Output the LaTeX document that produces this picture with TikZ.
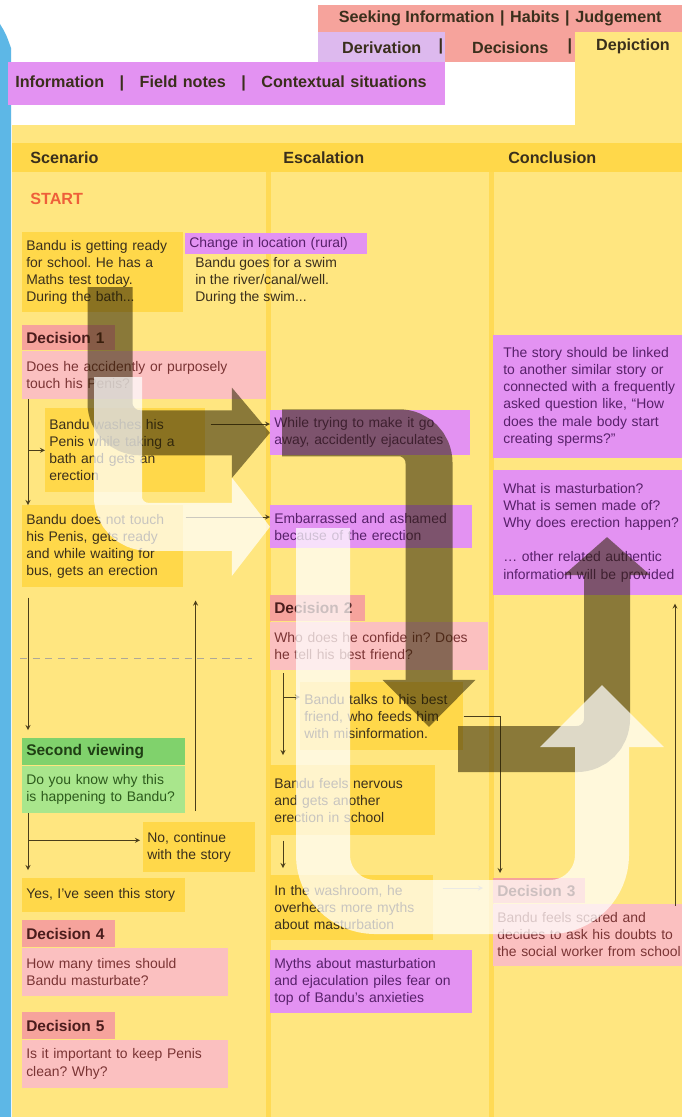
\documentclass[tikz,border=0pt]{standalone}
\usepackage{fontspec}
\setmainfont{Liberation Sans}
\usetikzlibrary{calc, positioning, arrows.meta}
\frenchspacing
\def\px{0.025cm}
\definecolor{boardyellow}{HTML}{FFE680}
\definecolor{lanecolor}{HTML}{FFDA55}
\definecolor{notecolor}{HTML}{FFD84A}
\definecolor{twistcolor}{HTML}{E392F2}
\definecolor{lilac}{HTML}{DDB9EE}
\definecolor{salmon}{HTML}{F6A39C}
\definecolor{blush}{HTML}{FBC0C0}
\definecolor{leafdark}{HTML}{80D26C}
\definecolor{leaflight}{HTML}{A9E68C}
\definecolor{startred}{HTML}{EE5F3A}
\definecolor{sidebar}{HTML}{5DB7E6}
\definecolor{inkbrown}{HTML}{3A2F1C}
\definecolor{inkpurple}{HTML}{57206A}
\definecolor{inkred}{HTML}{7A3434}
\definecolor{inktag}{HTML}{4A1C1C}
\definecolor{inkgreen}{HTML}{2C5A1C}
\definecolor{flowdark}{HTML}{2A2000}
\definecolor{linecolor}{HTML}{4A3E1A}
\def\notefont{\fontsize{9.9}{12.2}\selectfont}
\def\tagfont{\fontsize{11}{13}\selectfont\bfseries}
\def\headfont{\fontsize{11.5}{13.5}\selectfont\bfseries}
\def\sep{\hspace{11pt}|\hspace{11pt}}
\def\topsep{\hspace{4pt}|\hspace{4pt}}
\tikzset{
% Sticky note
note/.style n args={3}{
	anchor=north west, fill=#1, align=left,
	minimum width=#2*\px, text width=(#2-8)*\px, minimum height=#3*\px,
	inner xsep=0.1cm, inner ysep=0pt, font=\notefont,
	},
% Scene
scene/.style 2 args={note={notecolor}{#1}{#2}, text=inkbrown},
% Twist
twist/.style 2 args={note={twistcolor}{#1}{#2}, text=inkpurple},
% Choice
choice/.style 2 args={note={blush}{#1}{#2}, text=inkred},
choicetag/.style 2 args={note={salmon}{#1}{#2}, text=inktag, font=\tagfont},
% Second viewing
viewtag/.style 2 args={note={leafdark}{#1}{#2}, text=inkgreen!70!black, font=\tagfont},
viewq/.style 2 args={note={leaflight}{#1}{#2}, text=inkgreen},
% Legend
legend/.style={
	inner sep=0pt, font=\headfont, text=inkbrown,
},
% Column head
colhead/.style={
	anchor=west, inner sep=0pt, font=\headfont, text=inkbrown,
},
% Connection
connection/.style={
	line width=0.6pt, draw=linecolor,
},
% Flow
flow/.style={
	line width=#1*\px, rounded corners=0.75cm,
},
}

\begin{document}
\begin{tikzpicture}[x=\px, y=-\px]
	\useasboundingbox (0,0) rectangle (682,1117);

	% Board
	\fill[white] (0,0) rectangle (682,1117);
	\fill[boardyellow] (12,125) rectangle (682,1117);
	\fill[boardyellow] (575,32) rectangle (682,125);
	\fill[notecolor] (12,143) rectangle (682,172);
	\fill[lanecolor] (266,172) rectangle (271,1117);
	\fill[lanecolor] (489,172) rectangle (494,1117);
	\fill[sidebar] (0,24) .. controls (6,34) .. (11,48) -- (11,1117) -- (0,1117) -- cycle;

	% Legend
	\node[legend, anchor=north west, fill=salmon, minimum width=364*\px, minimum height=27*\px]
		 (legend_top) at (318,5) {Seeking Information\topsep Habits\topsep Judgement};
	\node[legend, anchor=north west, fill=lilac, minimum width=127*\px, minimum height=30*\px]
		 (legend_derivation) at (318,32) {Derivation};
	\node[legend, anchor=north west, fill=salmon, minimum width=130*\px, minimum height=30*\px]
		 (legend_decisions) at (445,32) {Decisions};
	\node[legend] (legend_depiction) at (633,46) {Depiction};
	\node[legend] (legend_bar1) at (441,46) {|};
	\node[legend] (legend_bar2) at (570,46) {|};
	\node[legend, anchor=north west, fill=twistcolor, minimum width=437*\px, minimum height=43*\px,
		 text width=(437-14)*\px, align=left, inner xsep=7*\px]
		 (legend_info) at (8,62) {Information\sep Field notes\sep Contextual situations};

	% Column heads
	\node[colhead] (head_scenario) at (30,158) {Scenario};
	\node[colhead] (head_escalation) at (283,158) {Escalation};
	\node[colhead] (head_conclusion) at (508,158) {Conclusion};

	% Scenario
	\node[colhead, text=startred] (start) at (30,199) {START};
	\node[scene={161}{80}] (get_ready) at (22,232)
		 {Bandu is getting ready\\for school. He has a\\Maths test today.\\During the bath...};
	\node[twist={182}{21}] (location_tag) at (185,233) {Change in location (rural)};
	\node[anchor=north west, inner sep=0pt, align=left, font=\notefont, text=inkbrown]
		 (swim) at (195,257) {Bandu goes for a swim\\in the river/canal/well.\\During the swim...};
	\node[choicetag={93}{25}] (dec1_tag) at (22,325) {Decision 1};
	\node[choice={244}{48}, below=0pt of dec1_tag.south west, anchor=north west]
		 (dec1_q) {Does he accidently or purposely\\touch his Penis?};
	\node[scene={160}{84}] (washes) at (45,408)
		 {Bandu washes his\\Penis while taking a\\bath and gets an\\erection};
	\node[scene={161}{82}] (no_touch) at (22,505)
		 {Bandu does not touch\\his Penis, gets ready\\and while waiting for\\bus, gets an erection};
	\node[viewtag={163}{27}] (view_tag) at (22,738) {Second viewing};
	\node[viewq={163}{47}, below=0pt of view_tag.south west, anchor=north west]
		 (view_q) {Do you know why this\\is happening to Bandu?};
	\node[scene={112}{50}] (go_on) at (143,822) {No, continue\\with the story};
	\node[scene={163}{34}] (seen) at (22,878) {Yes, I've seen this story};
	\node[choicetag={93}{27}] (dec4_tag) at (22,920) {Decision 4};
	\node[choice={206}{48}, below=0pt of dec4_tag.south west, anchor=north west]
		 (dec4_q) {How many times should\\Bandu masturbate?};
	\node[choicetag={93}{27}] (dec5_tag) at (22,1012) {Decision 5};
	\node[choice={206}{48}, below=0pt of dec5_tag.south west, anchor=north west]
		 (dec5_q) {Is it important to keep Penis\\clean? Why?};

	% Escalation
	\node[twist={200}{45}] (ejac) at (270,410) {While trying to make it go\\away, accidently ejaculates};
	\node[twist={202}{43}] (ashamed) at (270,505) {Embarrassed and ashamed\\because of the erection};
	\node[choicetag={95}{26}] (dec2_tag) at (270,595) {Decision 2};
	\node[choice={218}{48}, below=0pt of dec2_tag.south west, anchor=north west]
		 (dec2_q) {Who does he confide in? Does\\he tell his best friend?};
	\node[scene={163}{68}] (talks) at (300,682)
		 {Bandu talks to his best\\friend, who feeds him\\with misinformation.};
	\node[scene={165}{70}] (nervous) at (270,765)
		 {Bandu feels nervous\\and gets another\\erection in school};
	\node[scene={163}{65}] (washroom) at (270,875)
		 {In the washroom, he\\overhears more myths\\about masturbation};
	\node[twist={202}{63}] (myths) at (270,950)
		 {Myths about masturbation\\and ejaculation piles fear on\\top of Bandu's anxieties};

	% Conclusion
	\node[twist={205}{123}, inner xsep=0.25cm] (linked) at (493,335)
		 {The story should be linked\\to another similar story or\\connected with a frequently\\asked question like, ``How\\does the male body start\\creating sperms?''};
	\node[twist={205}{125}, inner xsep=0.25cm] (faq) at (493,470)
		 {What is masturbation?\\What is semen made of?\\Why does erection happen?\\[12pt]\ldots\ other related authentic\\information will be provided};
	\node[choicetag={92}{25}] (dec3_tag) at (493,878) {Decision 3};
	\node[choice={205}{62}, below=0pt of dec3_tag.south west, anchor=north west]
		 (dec3_q) {Bandu feels scared and\\decides to ask his doubts to\\the social worker from school};

	% Connections
	\coordinate (trunk1) at ($(dec1_q.south west)+(6,0)$);
	\draw[connection, -stealth] (trunk1) -- (trunk1 |- no_touch.north);
	\draw[connection, -stealth] (trunk1 |- washes.west) -- (washes.west);
	\coordinate (wash_out) at ($(washes.north east)+(5,16)$);
	\draw[connection, -stealth] (wash_out) -- (wash_out -| ejac.west);
	\coordinate (touch_out) at ($(no_touch.north east)+(2,12)$);
	\draw[connection, -stealth] (touch_out) -- (touch_out -| ashamed.west);
	%
	\coordinate (trunk2) at ($(no_touch.south west)+(6,10)$);
	\draw[connection, -stealth] (trunk2) -- ($(view_tag.north west)+(6,-8)$);
	\coordinate (rewind) at ($(view_q.south east)+(10,-2)$);
	\draw[connection, -stealth] (rewind) -- ($(rewind |- no_touch.south)+(0,13)$);
	\coordinate (cut_left) at (20,658);
	\coordinate (cut_right) at (252,658);
	\draw[line width=0.6pt, draw=linecolor!45, dash pattern=on 5pt off 4pt] (cut_left) -- (cut_right);
	\coordinate (trunk3) at ($(view_q.south west)+(6,0)$);
	\draw[connection, -stealth] (trunk3) -- ($(seen.north west)+(6,-8)$);
	\draw[connection, -stealth] ($(trunk3 |- go_on.west)+(0,-7)$) -- ($(go_on.west)+(-3,-7)$);
	%
	\coordinate (trunk4) at ($(dec2_q.south west)+(13,3)$);
	\draw[connection, -stealth] (trunk4) -- ($(nervous.north west)+(13,-10)$);
	\coordinate (talk_in) at ($(trunk4 |- talks.north)+(0,15)$);
	\draw[connection, -stealth] (talk_in) -- (talk_in -| talks.west);
	\draw[connection, -stealth] (talks.east) -| ($(dec3_tag.north west)+(7,-5)$);
	\coordinate (trunk5) at ($(nervous.south west)+(13,5)$);
	\draw[connection, -stealth] (trunk5) -- ($(washroom.north west)+(13,-7)$);
	\coordinate (wash_room_out) at ($(washroom.north east)+(9,13)$);
	\draw[connection, -stealth, draw=linecolor!40] (wash_room_out) -- ($(wash_room_out -| dec3_tag.west)+(-10,0)$);
	\coordinate (social_out) at ($(dec3_q.north west)+(182,2)$);
	\draw[connection, -stealth] (social_out) -- ($(social_out |- faq.south)+(0,8)$);

	% Flows
	\coordinate (flow_bath) at (110,287);
	\coordinate (flow_worry) at ($(ejac.west)+(12,0)$);
	\coordinate (flow_worry_tip) at (429,727);
	\coordinate (flow_talk) at (458,749);
	\coordinate (flow_help_tip) at (607,537);
	\begin{scope}[transparency group, opacity=0.55]
		\draw[flow=45, draw=flowdark, -{Triangle[length=0.95cm, width=2.2cm]}]
			 (flow_bath) |- (ejac.west);
		\draw[flow=47, draw=flowdark, -{Triangle[length=1.18cm, width=2.25cm]}]
			 (flow_worry) -| (flow_worry_tip);
		\draw[flow=46, draw=flowdark, -{Triangle[length=0.95cm, width=2.1cm]}]
			 (flow_talk) -| (flow_help_tip);
	\end{scope}
	\coordinate (flow_wait) at (118,377);
	\coordinate (flow_shame) at (323,528);
	\coordinate (flow_loop) at (602,907);
	\coordinate (flow_ask_tip) at (602,685);
	\begin{scope}[transparency group, opacity=0.72]
		\draw[flow=48, draw=white, -{Triangle[length=0.95cm, width=2.4cm]}]
			 (flow_wait) |- (ashamed.west);
		\draw[flow=54, draw=white, rounded corners=1.3cm, -{Triangle[length=1.55cm, width=3cm]}]
			 (flow_shame) |- (flow_loop) -- (flow_ask_tip);
	\end{scope}
\end{tikzpicture}
\end{document}
